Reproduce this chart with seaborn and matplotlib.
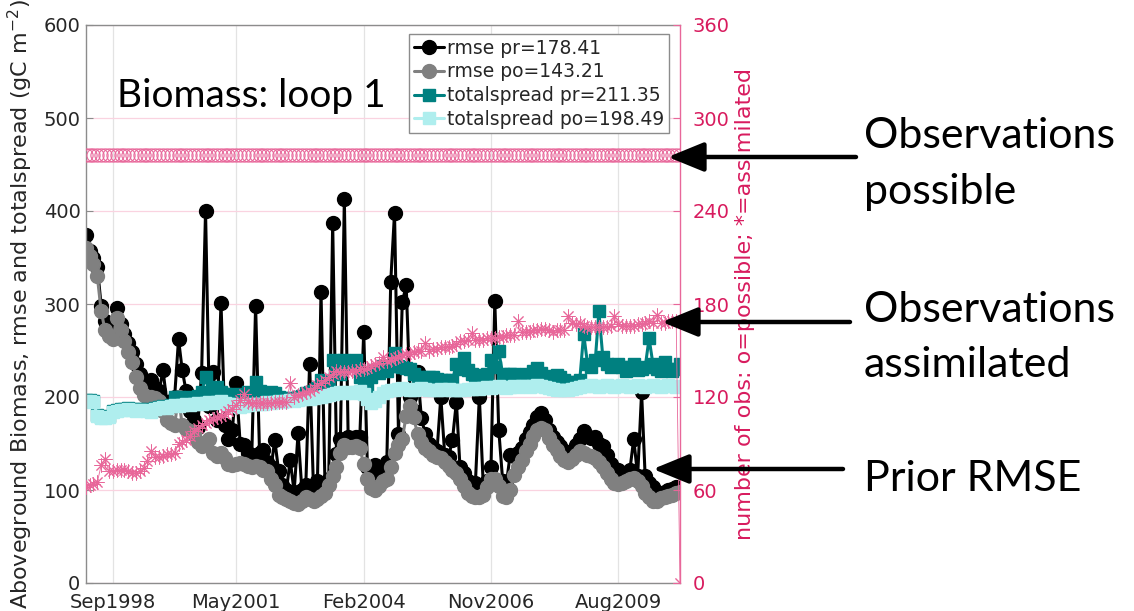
import numpy as np
import pandas as pd
import matplotlib
matplotlib.use("Agg")
import matplotlib.pyplot as plt
import seaborn as sns

# Monthly analysis times
months = pd.date_range("1998-02-01", periods=155, freq="MS")

# RMSE of the prior (pr) and posterior (po) biomass, gC m-2
rmse_pr = [
    374, 357, 350, 340, 298, 282, 275, 272, 296, 278,
    268, 258, 248, 235, 225, 218, 215, 218, 210, 206,
    229, 195, 190, 200, 262, 229, 206, 185, 175, 168,
    226, 400, 190, 227, 175, 301, 170, 155, 165, 215,
    150, 148, 140, 138, 298, 140, 143, 130, 125, 154,
    120, 105, 100, 132, 98, 161, 100, 105, 236, 100,
    110, 313, 108, 112, 387, 139, 155, 413, 157, 156,
    157, 157, 270, 125, 120, 127, 115, 118, 130, 324,
    398, 160, 302, 320, 200, 185, 227, 177, 160, 150,
    145, 142, 200, 138, 135, 154, 195, 125, 118, 110,
    108, 108, 200, 105, 110, 125, 303, 165, 110, 105,
    138, 137, 140, 145, 155, 162, 170, 178, 183, 175,
    165, 157, 152, 147, 142, 140, 142, 148, 155, 163,
    158, 156, 157, 150, 147, 138, 128, 122, 121, 118,
    117, 122, 155, 115, 205, 115, 107, 103, 98, 96,
    98, 100, 101, 103, 100,
]
rmse_po = [
    360, 352, 343, 330, 292, 272, 266, 262, 285, 272,
    260, 248, 238, 222, 210, 202, 200, 200, 199, 196,
    185, 175, 172, 170, 200, 170, 166, 163, 160, 152,
    147, 150, 155, 140, 137, 140, 134, 128, 127, 128,
    129, 128, 126, 125, 126, 125, 121, 120, 112, 105,
    95, 92, 90, 88, 86, 85, 88, 93, 90, 88,
    90, 94, 97, 105, 115, 125, 140, 148, 146, 146,
    147, 145, 128, 112, 102, 100, 104, 110, 112, 125,
    140, 148, 155, 180, 190, 178, 160, 152, 145, 142,
    138, 136, 134, 130, 126, 122, 118, 112, 104, 97,
    94, 93, 93, 95, 103, 112, 112, 104, 94, 92,
    100, 116, 125, 132, 142, 150, 158, 164, 167, 165,
    156, 148, 143, 137, 132, 130, 133, 138, 142, 140,
    138, 137, 134, 130, 125, 118, 112, 108, 106, 108,
    110, 112, 113, 110, 104, 97, 92, 88, 88, 91,
    93, 94, 95, 97, 98,
]

# Total ensemble spread of the prior and posterior, gC m-2
spread_pr = [
    197, 197, 196, 181, 178, 178, 180, 185, 186, 187,
    187, 188, 187, 186, 187, 187, 186, 185, 188, 189,
    190, 189, 191, 200, 200, 199, 198, 200, 199, 201,
    205, 222, 203, 210, 211, 205, 203, 202, 203, 202,
    201, 203, 205, 204, 216, 206, 204, 204, 205, 204,
    200, 199, 199, 198, 199, 200, 201, 204, 205, 206,
    210, 218, 212, 215, 240, 226, 225, 240, 236, 236,
    240, 222, 218, 212, 222, 229, 226, 233, 228, 233,
    247, 233, 232, 231, 230, 225, 222, 221, 220, 222,
    222, 219, 218, 218, 216, 218, 236, 230, 242, 229,
    225, 224, 222, 223, 225, 240, 232, 249, 225, 224,
    225, 225, 224, 222, 225, 224, 228, 231, 226, 223,
    222, 222, 224, 221, 218, 216, 215, 216, 218, 268,
    236, 232, 240, 292, 243, 236, 232, 234, 236, 232,
    228, 232, 236, 229, 230, 232, 263, 236, 230, 228,
    238, 230, 228, 230, 236,
]
spread_po = [
    196, 196, 195, 180, 177, 177, 179, 184, 185, 186,
    186, 187, 186, 185, 186, 186, 185, 184, 187, 188,
    189, 188, 190, 191, 190, 191, 192, 191, 193, 194,
    193, 194, 195, 194, 195, 196, 194, 193, 192, 190,
    189, 190, 191, 192, 193, 192, 193, 195, 194, 195,
    196, 195, 196, 197, 196, 197, 198, 199, 198, 199,
    200, 200, 201, 202, 203, 204, 205, 204, 205, 204,
    205, 206, 203, 198, 194, 196, 200, 204, 206, 207,
    208, 209, 210, 209, 208, 208, 209, 210, 209, 208,
    208, 208, 209, 208, 209, 208, 208, 207, 208, 209,
    209, 210, 209, 210, 211, 210, 211, 212, 211, 210,
    211, 212, 211, 212, 212, 211, 212, 213, 212, 211,
    210, 209, 208, 207, 207, 208, 209, 210, 211, 212,
    212, 213, 212, 211, 212, 213, 212, 211, 212, 213,
    212, 211, 212, 213, 212, 211, 212, 213, 212, 211,
    212, 213, 212, 211, 212,
]

# Number of observations assimilated each month (right axis)
obs_assimilated = [
    62, 63, 64, 65, 76, 80, 72, 72, 73, 73,
    73, 72, 71, 71, 72, 74, 79, 85, 81, 81,
    82, 83, 83, 84, 90, 91, 92, 95, 98, 100,
    102, 103, 105, 106, 107, 108, 109, 111, 112, 115,
    118, 122, 117, 116, 116, 116, 116, 116, 116, 117,
    117, 117, 117, 129, 120, 121, 122, 123, 124, 126,
    128, 129, 131, 133, 135, 137, 136, 136, 136, 137,
    137, 138, 138, 139, 140, 141, 142, 146, 143, 144,
    145, 146, 147, 148, 148, 149, 150, 150, 155, 150,
    151, 151, 152, 152, 152, 153, 154, 156, 156, 157,
    161, 157, 157, 157, 158, 158, 158, 159, 159, 160,
    160, 160, 169, 162, 162, 162, 163, 163, 164, 164,
    163, 162, 163, 163, 163, 172, 168, 167, 168, 166,
    165, 165, 165, 165, 165, 165, 166, 172, 167, 166,
    166, 166, 166, 167, 167, 168, 169, 168, 173, 168,
    168, 169, 169, 169, 0,
]
# Number of observations possible: the same every month
obs_possible = [276] * len(months)

series_labels = ["rmse pr=178.41", "rmse po=143.21",
                 "totalspread pr=211.35", "totalspread po=198.49"]
xtick_dates = pd.to_datetime(["1998-09-01", "2001-05-01", "2004-02-01",
                              "2006-11-01", "2009-08-01"])
xtick_labels = ["Sep1998", "May2001", "Feb2004", "Nov2006", "Aug2009"]
left_ticks = [0, 100, 200, 300, 400, 500, 600]
right_ticks = [0, 60, 120, 180, 240, 300, 360]
title_text = "Biomass: loop 1"
notes = [["Observations", "possible"], ["Observations", "assimilated"], ["Prior RMSE"]]

sns.set_style("white")
plt.rcParams["font.family"] = ["DejaVu Sans"]
plt.rcParams["mathtext.fontset"] = "dejavusans"

W, H = 1134, 611
fig = plt.figure(figsize=(W / 100, H / 100), dpi=100)
ax = fig.add_axes([86 / W, 28 / H, 594 / W, 558 / H])

PINK = "#e8679a"
CRIMSON = "#d81b5e"
AXGRAY = "#8c8c8c"
TXT = "#262626"

styles = [
    (rmse_pr, "black", "o", 10.0),
    (rmse_po, "#808080", "o", 10.0),
    (spread_pr, "#008080", "s", 8.5),
    (spread_po, "#afeeee", "s", 8.5),
]
for (vals, color, marker, ms), lab in zip(styles, series_labels):
    sns.lineplot(x=months, y=vals, ax=ax, color=color, marker=marker,
                 markersize=ms, markeredgecolor=color, markerfacecolor=color,
                 markeredgewidth=1.0, linewidth=2.2, label=lab,
                 estimator=None, sort=False)

if ax.get_legend() is not None:
    ax.get_legend().remove()

ax.set_xlim(months[0], months[-1])
ax.set_ylim(0, 600)
ax.set_yticks(left_ticks)
ax.set_xticks(xtick_dates)
ax.set_xticklabels(xtick_labels)
ax.set_xlabel("")
ax.set_ylabel(r"Aboveground Biomass, rmse and totalspread (gC m$^{-2}$)",
              fontsize=16, color=TXT, labelpad=6)
ax.set_axisbelow(True)
ax.xaxis.grid(True, color="#e3e3e3", lw=0.9)
ax.yaxis.grid(True, color="#fad3e0", lw=0.9)
ax.tick_params(axis="y", direction="in", length=5, color=AXGRAY,
               labelsize=14, labelcolor=TXT, pad=4)
ax.tick_params(axis="x", direction="in", length=5, color=AXGRAY,
               labelsize=14, labelcolor=TXT, pad=7)
for side in ["left", "bottom", "top"]:
    ax.spines[side].set_color(AXGRAY)
    ax.spines[side].set_linewidth(1.0)
ax.spines["right"].set_visible(False)

ax.text((117 - 86) / 594, (583 - 107) / 558, title_text, transform=ax.transAxes,
        fontsize=28, family=["Lato", "DejaVu Sans"], va="baseline", ha="left",
        color="black")

# Observation counts on the right axis
ax2 = ax.twinx()
sns.lineplot(x=months, y=obs_possible, ax=ax2, color=PINK, marker="o",
             markersize=9.5, markerfacecolor="none", markeredgecolor=PINK,
             markeredgewidth=0.8, linestyle="none", estimator=None, sort=False)
sns.lineplot(x=months, y=obs_assimilated, ax=ax2, color=PINK, marker=(8, 2, 0),
             markersize=10, markeredgecolor=PINK, markeredgewidth=0.7,
             linewidth=0.6, estimator=None, sort=False)
ax2.set_xlim(months[0], months[-1])
ax2.set_ylim(0, 360)
ax2.set_yticks(right_ticks)
ax2.set_ylabel("number of obs: o=possible; *=assimilated", fontsize=16,
               color=CRIMSON, labelpad=4)
ax2.tick_params(axis="y", direction="in", length=5, color=PINK,
                labelsize=14, labelcolor=CRIMSON, pad=9)
ax2.spines["right"].set_color(PINK)
ax2.spines["right"].set_linewidth(1.0)
for side in ["left", "bottom", "top"]:
    ax2.spines[side].set_visible(False)
ax2.grid(False)

handles, labels = ax.get_legend_handles_labels()
leg = ax2.legend(handles, labels, loc="upper left",
                 bbox_to_anchor=((409 - 86) / 594, (583 - 34) / 558),
                 fontsize=13.5, frameon=True, fancybox=False, framealpha=1,
                 edgecolor=AXGRAY, borderpad=0.25, labelspacing=0.25,
                 handlelength=1.6, handletextpad=0.2, borderaxespad=0)
leg.get_frame().set_linewidth(1.0)

# Callouts to the right of the axes
note_font = dict(fontsize=31, family=["Lato", "DejaVu Sans"], color="black",
                 ha="left", va="baseline")
baselines = [[148, 204], [322, 377], [491]]
for lines, ys in zip(notes, baselines):
    for line, y in zip(lines, ys):
        fig.text(864 / W, 1 - y / H, line, **note_font)

arrows = [(157, 668, 856), (322, 662, 850), (469, 653, 843)]
for y, tip, tail in arrows:
    ax2.annotate("", xy=(tip, H - y), xytext=(tail, H - y),
                 xycoords="figure pixels", textcoords="figure pixels",
                 arrowprops=dict(arrowstyle="-|>,head_length=1.1,head_width=0.45",
                                 lw=3.2, color="black", mutation_scale=20,
                                 shrinkA=0, shrinkB=0),
                 annotation_clip=False)

fig.savefig("out.png", dpi=100)
